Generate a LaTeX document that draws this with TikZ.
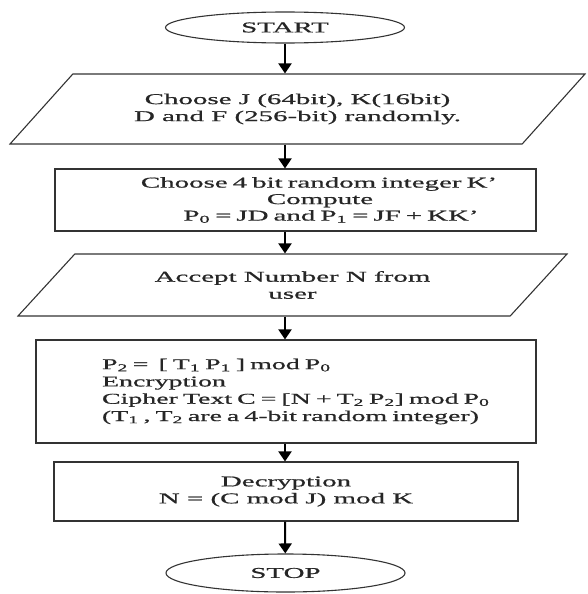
\documentclass[tikz,border=0pt]{standalone}
\usepackage{fontspec}
\newfontfamily\flowfont[FakeStretch=1.93,FakeBold=0.8]{Liberation Serif}
\newfontfamily\flownarrow[FakeStretch=1.86,FakeBold=0.8]{Liberation Serif}
\usetikzlibrary{arrows.meta,shapes.geometric}

\begin{document}
\begin{tikzpicture}[x=1pt,y=-1pt,
  term/.style={draw=black!80,line width=1.1pt,ellipse,minimum width=239pt,minimum height=31pt,inner sep=0pt},
  io/.style={draw=black!80,line width=1.1pt,trapezium,trapezium left angle=26,trapezium right angle=154,trapezium stretches body,inner sep=0pt},
  proc/.style={draw=black!80,line width=1.1pt,rectangle,inner sep=0pt},
  flow/.style={-{Triangle[length=10pt,width=13pt]},line width=2pt},
  every node/.style={font=\flowfont\fontsize{15}{17}\selectfont,text=black!85,align=center}]
  \useasboundingbox (0,0) rectangle (587,594);
  % Terminals and steps
  \node[term] (start) at (285,27.5) {START};
  \node[io,minimum width=575pt,minimum height=70pt] (choose) at (297.5,109)
    {Choose J (64bit), K(16bit)\\D and F (256-bit) randomly.};
  \node[proc,minimum width=481pt,minimum height=62pt,text width=481pt,
        font=\flowfont\fontsize{15}{16.5}\selectfont] (keys) at (295.5,200)
    {\hspace*{47pt}Choose 4 bit random integer K’\\
     \hspace*{49pt}Compute\\
     \hspace*{71pt}P\textsubscript{0} = JD and P\textsubscript{1} = JF + KK’};
  \node[io,minimum width=549pt,minimum height=62pt] (accept) at (292.5,285)
    {Accept Number N from\\user};
  \node[proc,minimum width=500pt,minimum height=103pt,text width=500pt,align=left,
        font=\flownarrow\fontsize{15}{17.3}\selectfont] (encrypt) at (286,391.5)
    {\hspace*{66pt}P\textsubscript{2} =\ \ [ T\textsubscript{1} P\textsubscript{1} ] mod P\textsubscript{0}\\
     \hspace*{66pt}Encryption\\
     \hspace*{66pt}Cipher Text C = [N + T\textsubscript{2} P\textsubscript{2}] mod P\textsubscript{0}\\
     \hspace*{66pt}(T\textsubscript{1} , T\textsubscript{2} are a 4-bit random integer)};
  \node[proc,minimum width=464pt,minimum height=59pt] (decrypt) at (286,491.5)
    {Decryption\\N = (C mod J) mod K};
  \node[term,minimum height=38pt] (stop) at (285.5,573) {STOP};
  % Flow
  \draw[flow] (start) -- (start |- choose.north);
  \draw[flow] (start |- choose.south) -- (start |- keys.north);
  \draw[flow] (start |- keys.south) -- (start |- accept.north);
  \draw[flow] (start |- accept.south) -- (start |- encrypt.north);
  \draw[flow] (start |- encrypt.south) -- (start |- decrypt.north);
  \draw[flow] (start |- decrypt.south) -- (stop);
\end{tikzpicture}
\end{document}
